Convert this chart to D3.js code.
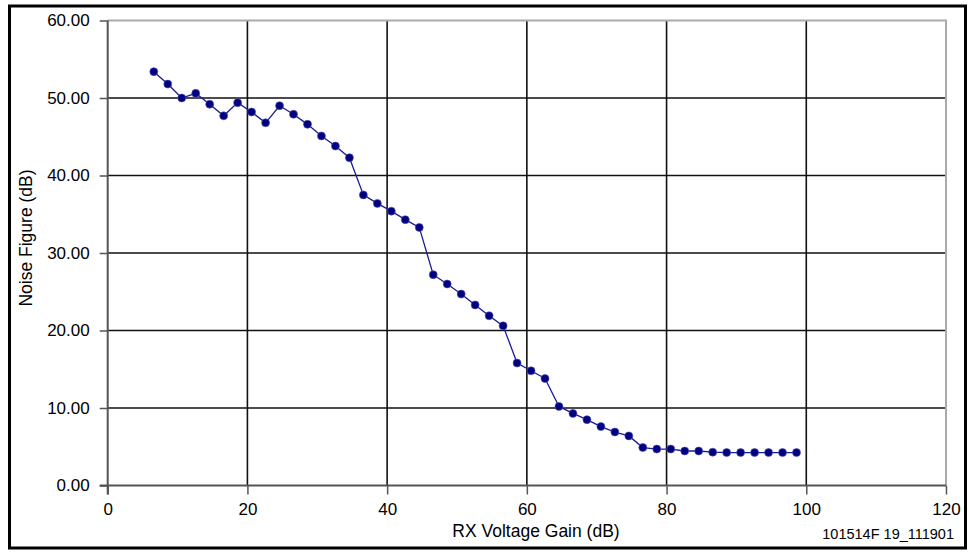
<!DOCTYPE html>
<html><head><meta charset="utf-8">
<script src="https://cdn.jsdelivr.net/npm/d3@7"></script>
<style>body{margin:0;background:#fff}svg{display:block}text{font-family:"Liberation Sans",Arial,sans-serif}</style>
</head><body><svg id="c" width="969" height="552"></svg>
<script>
const gain = [6.6,8.6,10.6,12.6,14.6,16.6,18.6,20.6,22.6,24.6,26.6,28.6,30.6,32.6,34.6,36.6,38.6,40.6,42.6,44.6,46.6,48.6,50.6,52.6,54.6,56.6,58.6,60.6,62.6,64.6,66.6,68.6,70.6,72.6,74.6,76.6,78.6,80.6,82.6,84.6,86.6,88.6,90.6,92.6,94.6,96.6,98.6];
const noiseFigure = [53.4,51.8,50.0,50.6,49.2,47.7,49.4,48.2,46.8,49.0,47.9,46.6,45.1,43.8,42.3,37.5,36.4,35.4,34.3,33.3,27.2,26.0,24.7,23.3,21.9,20.6,15.8,14.8,13.8,10.2,9.3,8.5,7.6,6.9,6.4,4.9,4.7,4.7,4.45,4.45,4.3,4.25,4.25,4.25,4.25,4.25,4.25];
const xTicks = [0,20,40,60,80,100,120];
const yTicks = [0,10,20,30,40,50,60];
const xTitle = "RX Voltage Gain (dB)";
const yTitle = "Noise Figure (dB)";
const code = "101514F 19_111901";

const svg = d3.select("#c");
const L=107.7, R=946, T=20.5, B=485.5;
const x = d3.scaleLinear().domain([0,120]).range([L,R]);
const y = d3.scaleLinear().domain([0,60]).range([B,T]);

// outer border
svg.append("rect").attr("x",9.5).attr("y",6).attr("width",956).attr("height",542)
  .attr("fill","none").attr("stroke","#000").attr("stroke-width",3);

// grid
const g = svg.append("g");
g.selectAll(".vg").data(xTicks.filter(d=>d>0&&d<120)).enter().append("line")
  .attr("x1",d=>x(d)).attr("x2",d=>x(d)).attr("y1",T).attr("y2",B)
  .attr("stroke","#111").attr("stroke-width",1.6);
g.selectAll(".hg").data(yTicks.filter(d=>d>0&&d<60)).enter().append("line")
  .attr("y1",d=>y(d)).attr("y2",d=>y(d)).attr("x1",L).attr("x2",R)
  .attr("stroke","#111").attr("stroke-width",1.6);
// frame top/right
g.append("path").attr("d",`M${L},${T}H${R}V${B}`).attr("fill","none").attr("stroke","#aaa").attr("stroke-width",2);

// axes
const xa = svg.append("g").attr("transform",`translate(0,${B})`)
  .call(d3.axisBottom(x).tickValues(xTicks).tickSize(9).tickPadding(8.5).tickSizeOuter(0));
const ya = svg.append("g").attr("transform",`translate(${L},0)`)
  .call(d3.axisLeft(y).tickValues(yTicks).tickSize(8).tickPadding(10).tickFormat(d3.format(".2f")).tickSizeOuter(0));
[xa,ya].forEach(a=>{
  a.select(".domain").attr("stroke","#555").attr("stroke-width",2);
  a.selectAll(".tick line").attr("stroke","#555").attr("stroke-width",1.5);
  a.selectAll("text").attr("fill","#000").style("font-size","17px").style("font-family","Liberation Sans, Arial, sans-serif");
});
ya.select(".domain").attr("d",`M0,${T}V${B+9}`);
xa.select(".domain").attr("d",`M${L-8},0H${R}`);

// line and markers
const pts = gain.map((g,i)=>[g,noiseFigure[i]]);
svg.append("path").datum(pts).attr("fill","none").attr("stroke","#1a1a99").attr("stroke-width",1.3)
  .attr("d",d3.line().x(d=>x(d[0])).y(d=>y(d[1])));
svg.selectAll(".pt").data(pts).enter().append("circle")
  .attr("cx",d=>x(d[0])).attr("cy",d=>y(d[1])).attr("r",4)
  .attr("fill","#000080").attr("stroke","#5555b5").attr("stroke-width",0.6);

// titles
svg.append("text").attr("x",536).attr("y",537).attr("text-anchor","middle").style("font-size","17.5px").text(xTitle);
svg.append("text").attr("transform",`translate(32,238) rotate(-90)`).attr("text-anchor","middle").style("font-size","17.5px").text(yTitle);
svg.append("text").attr("x",954).attr("y",539).attr("text-anchor","end").style("font-size","14.5px").text(code);
</script></body></html>
